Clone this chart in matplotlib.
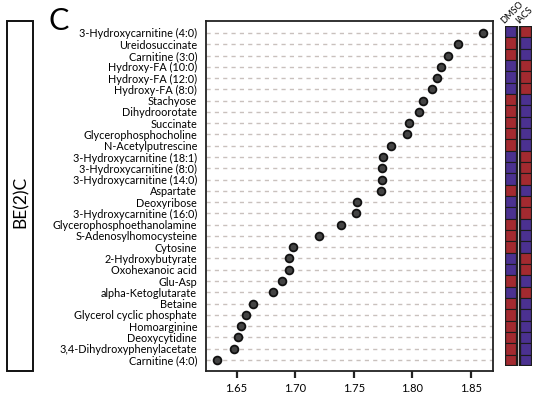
import matplotlib
matplotlib.use("Agg")
import matplotlib.pyplot as plt
from matplotlib.patches import Rectangle

plt.rcParams['font.family'] = ['Lato', 'DejaVu Sans']

metabolites = [
    "3-Hydroxycarnitine (4:0)", "Ureidosuccinate", "Carnitine (3:0)",
    "Hydroxy-FA (10:0)", "Hydroxy-FA (12:0)", "Hydroxy-FA (8:0)",
    "Stachyose", "Dihydroorotate", "Succinate", "Glycerophosphocholine",
    "N-Acetylputrescine", "3-Hydroxycarnitine (18:1)", "3-Hydroxycarnitine (8:0)",
    "3-Hydroxycarnitine (14:0)", "Aspartate", "Deoxyribose",
    "3-Hydroxycarnitine (16:0)", "Glycerophosphoethanolamine",
    "S-Adenosylhomocysteine", "Cytosine", "2-Hydroxybutyrate",
    "Oxohexanoic acid", "Glu-Asp", "alpha-Ketoglutarate", "Betaine",
    "Glycerol cyclic phosphate", "Homoarginine", "Deoxycytidine",
    "3,4-Dihydroxyphenylacetate", "Carnitine (4:0)",
]
importance = [
    1.860, 1.839, 1.830, 1.824, 1.821, 1.817, 1.809, 1.806, 1.797, 1.795,
    1.782, 1.775, 1.774, 1.774, 1.773, 1.753, 1.752, 1.739, 1.720, 1.698,
    1.695, 1.695, 1.689, 1.681, 1.664, 1.658, 1.654, 1.651, 1.648, 1.633,
]
# 1 = higher in group (red), 0 = lower (blue)
dmso_high = [0, 1, 1, 0, 0, 0, 1, 1, 1, 1, 1, 0, 0, 0, 1, 0, 0, 1, 1, 1,
             0, 0, 1, 0, 1, 1, 1, 1, 1, 1]
iacs_high = [1 - v for v in dmso_high]
groups = ["DMSO", "IACS"]
xticks = [1.65, 1.70, 1.75, 1.80, 1.85]

W, H = 540, 396
fig = plt.figure(figsize=(W / 100, H / 100), dpi=100)


def px_axes(x0, y0, x1, y1):
    return fig.add_axes([x0 / W, 1 - y1 / H, (x1 - x0) / W, (y1 - y0) / H])


# dot plot
ax = px_axes(205.7, 21, 492.7, 371)
n = len(metabolites)
ypos = list(range(n))
ax.set_axisbelow(True)
ax.grid(axis='y', linestyle=(0, (3, 3)), color='#c9c1bd', linewidth=1.0)
ax.grid(axis='x', visible=False)
ax.plot(importance, ypos, linestyle='none', marker='o', markersize=5.6,
        markerfacecolor='#444444', markeredgecolor='#111111',
        markeredgewidth=1.3, zorder=3)
ax.set_ylim(n - 1 + 0.98, -1.06)
ax.set_xlim(1.6237, 1.8685)
ax.set_yticks(ypos)
ax.set_yticklabels(metabolites, fontsize=7.8)
ax.set_xticks(xticks)
ax.set_xticklabels([f"{t:.2f}" for t in xticks], fontsize=8)
ax.tick_params(axis='y', length=0, pad=6.2)
ax.tick_params(axis='x', length=5, width=1.6, pad=3.5, color='#222222')
for s in ax.spines.values():
    s.set_linewidth(1.3)
    s.set_color('#222222')

# group heat strip
hx = px_axes(505, 26, 532, 366)
hx.set_xlim(0, 2.2)
hx.set_ylim(n, 0)
hx.axis('off')
red, blue = '#a32a30', '#4b3190'
for j, col in enumerate([dmso_high, iacs_high]):
    x0 = j * 1.2
    for i, v in enumerate(col):
        hx.add_patch(Rectangle((x0, i), 1, 1, facecolor=red if v else blue,
                               edgecolor='#1c1c1c', linewidth=0.8))
    hx.add_patch(Rectangle((x0, 0), 1, n, facecolor='none',
                           edgecolor='#1c1c1c', linewidth=1.6))
for j, g in enumerate(groups):
    fig.text((504 + j * 15) / W, 1 - 24 / H, g, rotation=45, fontsize=6.6,
             ha='left', va='baseline', rotation_mode='anchor')

# cell line panel on the left
fig.patches.append(Rectangle((7.3 / W, 1 - 371 / H), 26 / W, 350 / H,
                             transform=fig.transFigure, facecolor='none',
                             edgecolor='#111111', linewidth=1.4))
fig.text(20.5 / W, 1 - 202 / H, "BE(2)C", rotation=90, fontsize=12.5,
         ha='center', va='center')

fig.text(48 / W, 1 - 30 / H, "C", fontsize=22, ha='left', va='baseline')

fig.savefig("out.png", dpi=100)
